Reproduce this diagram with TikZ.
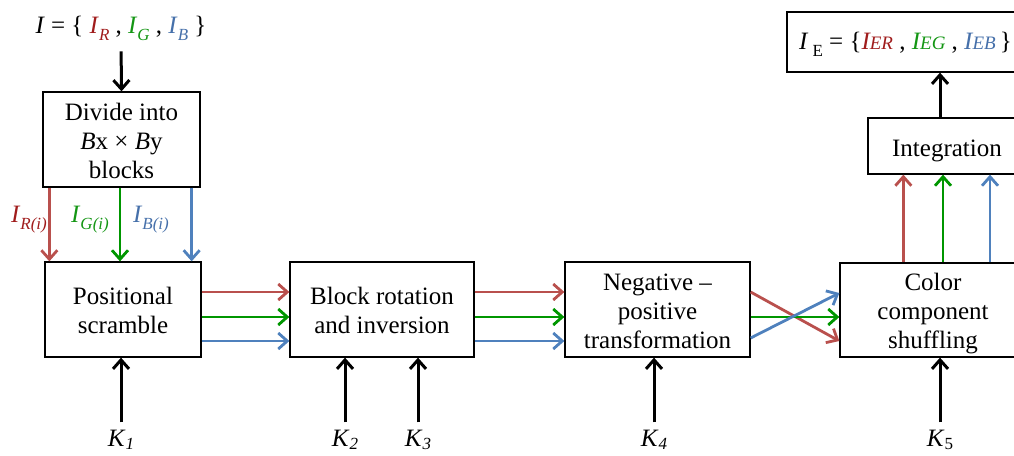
\documentclass[tikz,border=0pt]{standalone}
\usepackage{fontspec}
\setmainfont{Liberation Serif}
\usetikzlibrary{arrows.meta}
\definecolor{ared}{RGB}{185,80,77}
\definecolor{agreen}{RGB}{0,150,0}
\definecolor{ablue}{RGB}{79,129,189}
\definecolor{tred}{RGB}{160,28,28}
\definecolor{tgreen}{RGB}{20,150,20}
\definecolor{tblue}{RGB}{70,112,170}
\newcommand\mainfs{\fontsize{25}{29}\selectfont}
\newcommand\lowsub[1]{\raisebox{-0.28em}{\fontsize{17}{17}\selectfont #1}}
\newcommand\keysub[1]{\raisebox{-3.5pt}{\fontsize{17}{17}\selectfont #1}}
\newcommand\smallcaps[1]{{\fontsize{19}{19}\selectfont #1}}
% centred lines, set a little lower than the geometric centre of the box
\newcommand\boxtext[2][4pt]{\raisebox{-#1}[\height][\depth]{\begin{tabular}{@{}c@{}}#2\end{tabular}}}
\begin{document}
\begin{tikzpicture}[x=1pt,y=-1pt,
  box/.style={draw, line width=1.3pt, font=\mainfs, inner sep=0pt},
  lab/.style={font=\mainfs, inner sep=0pt},
  tip/.style={-{Straight Barb[length=9pt,width=16pt]}},
  karr/.style={tip, line width=3pt, black},
  carr/.style={tip, line width=2.8pt},
  rarr/.style={carr, ared},
  garr/.style={carr, agreen},
  barr/.style={carr, ablue}]
\useasboundingbox (0,0) rectangle (1014,455);

% processing blocks
\node[box, minimum width=157pt, minimum height=95pt] (divide) at (121.5,139.5)
  {\boxtext{Divide into\\\textit{B}x × \textit{B}y\\blocks}};
\node[box, minimum width=156pt, minimum height=95pt] (pos) at (123,309.5)
  {\boxtext{Positional\\scramble}};
\node[box, minimum width=184pt, minimum height=95pt] (rot) at (382,309.5)
  {\boxtext{Block rotation\\and inversion}};
\node[box, minimum width=185pt, minimum height=95pt] (neg) at (657.5,309.5)
  {\boxtext{Negative –\\positive\\transformation}};
\node[box, minimum width=186pt, minimum height=94pt] (color) at (933,310)
  {\boxtext{Color\\component\\shuffling}};
\node[box, minimum width=158pt, minimum height=56pt] (integ) at (947,146)
  {\boxtext[5pt]{Integration}};
\node[box, minimum width=237pt, minimum height=60pt] (ie) at (905.5,42)
  {\boxtext[2pt]{\textit{I}\,\lowsub{E} = \{\textcolor{tred}{\textit{I\smallcaps{ER}}} , \textcolor{tgreen}{\textit{I\smallcaps{EG}}} , \textcolor{tblue}{\textit{I\smallcaps{EB}}}\,\}}};

% input image
\node[lab, anchor=base] (inp) at (121,33)
  {\textit{I} = \{ \textcolor{tred}{\textit{I}\lowsub{\textit{R}}} , \textcolor{tgreen}{\textit{I}\lowsub{\textit{G}}} , \textcolor{tblue}{\textit{I}\lowsub{\textit{B}}} \}};
\draw[karr, shorten <=11pt] (inp.south) -- (divide.north);

% block channel labels
\node[lab, text=tred] (lr) at (29,220) {\textit{I}\lowsub{\textit{R(i)}}};
\node[lab, text=tgreen] (lg) at (90,220) {\textit{I}\lowsub{\textit{G(i)}}};
\node[lab, text=tblue] (lb) at (151,220) {\textit{I}\lowsub{\textit{B(i)}}};

% divide -> positional scramble
\draw[rarr] ([xshift=7pt]divide.south west) -- ([xshift=5pt]pos.north west);
\draw[garr] ([xshift=-1.5pt]divide.south) -- ([xshift=-3pt]pos.north);
\draw[barr] ([xshift=-9pt]divide.south east) -- ([xshift=-10pt]pos.north east);

% positional scramble -> block rotation
\draw[rarr] ([yshift=17.5pt]pos.east) -- ([yshift=17.5pt]rot.west);
\draw[garr] ([yshift=-7.5pt]pos.east) -- ([yshift=-7.5pt]rot.west);
\draw[barr] ([yshift=-31.5pt]pos.east) -- ([yshift=-31.5pt]rot.west);

% block rotation -> negative-positive
\draw[rarr] ([yshift=17.5pt]rot.east) -- ([yshift=17.5pt]neg.west);
\draw[garr] ([yshift=-7.5pt]rot.east) -- ([yshift=-7.5pt]neg.west);
\draw[barr] ([yshift=-31.5pt]rot.east) -- ([yshift=-31.5pt]neg.west);

% negative-positive -> colour shuffling (red and blue swap)
\draw[rarr] ([yshift=17.5pt]neg.east) -- ([yshift=-31pt]color.west);
\draw[garr] ([yshift=-7.5pt]neg.east) -- ([yshift=-7pt]color.west);
\draw[barr] ([yshift=-28.5pt]neg.east) -- ([yshift=17pt]color.west);

% colour shuffling -> integration -> output
\draw[rarr] ([xshift=64pt]color.north west) -- ([xshift=36pt]integ.south west);
\draw[garr] ([xshift=10pt]color.north) -- ([xshift=-4pt]integ.south);
\draw[barr] ([xshift=57pt]color.north) -- ([xshift=43pt]integ.south);
\draw[karr] ([xshift=-7pt]integ.north) -- ([xshift=34.5pt]ie.south);

% keys
\node[lab, anchor=base] (k1) at (121,446) {\textit{K}\keysub{\textit{1}}};
\node[lab, anchor=base] (k2) at (345,446) {\textit{K}\keysub{\textit{2}}};
\node[lab, anchor=base] (k3) at (418,446) {\textit{K}\keysub{\textit{3}}};
\node[lab, anchor=base] (k4) at (654,446) {\textit{K}\keysub{\textit{4}}};
\node[lab, anchor=base] (k5) at (940,446) {\textit{K}\keysub{5}};
\draw[karr, shorten <=7pt] (k1.north) -- ([xshift=-2pt]pos.south);
\draw[karr, shorten <=7pt] (k2.north) -- (rot.south -| k2.north);
\draw[karr, shorten <=7pt] (k3.north) -- (rot.south -| k3.north);
\draw[karr, shorten <=7pt] (k4.north) -- ([xshift=-3.5pt]neg.south);
\draw[karr, shorten <=7pt] (k5.north) -- ([xshift=7pt]color.south);
\end{tikzpicture}
\end{document}
